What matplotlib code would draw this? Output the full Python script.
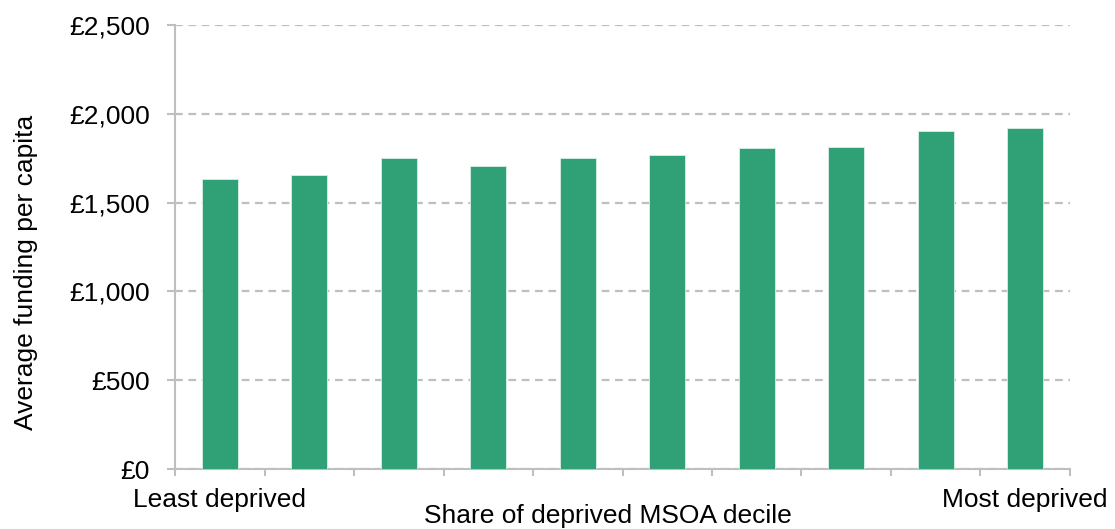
import matplotlib.pyplot as plt
import numpy as np
from matplotlib.ticker import FuncFormatter

plt.rcParams['font.family'] = ['Liberation Sans', 'DejaVu Sans']

# Valori (funding medio pro capite per decile)
deciles = list(range(1, 11))
funding = [1635, 1654, 1751, 1708, 1749, 1768, 1806, 1811, 1903, 1920]
tick_labels = ['Least deprived', '', '', '', '', '', '', '', '', 'Most deprived']

bar_color = '#30A077'
axis_grey = '#BFBFBF'

fig = plt.figure(figsize=(11.15, 5.29), dpi=100)
ax = fig.add_axes([0.157, 0.1134, 0.8026, 0.8393])

x = np.arange(len(deciles))
ax.bar(x, funding, width=0.4, color=bar_color, edgecolor='#D9F0E6', linewidth=0.6, zorder=3)

ax.set_xlim(-0.5, len(deciles) - 0.5)
ax.set_ylim(0, 2500)
ax.set_yticks(np.arange(0, 2501, 500))
ax.yaxis.set_major_formatter(FuncFormatter(lambda v, p: f'£{int(v):,}'))

# Griglia tratteggiata
ax.grid(axis='y', color='#BFBFBF', linestyle=(0, (3.5, 2.5)), linewidth=1.6, zorder=0)

for side in ['top', 'right']:
    ax.spines[side].set_visible(False)
for side in ['left', 'bottom']:
    ax.spines[side].set_color(axis_grey)
    ax.spines[side].set_linewidth(1.5)

# Tick: etichette solo al primo e ultimo decile, segni tra le categorie
ax.set_xticks(x)
ax.set_xticklabels(tick_labels)
ax.set_xticks(np.arange(-0.5, len(deciles), 1), minor=True)
ax.tick_params(axis='x', which='major', length=0, pad=14, labelsize=19)
ax.tick_params(axis='x', which='minor', length=5, width=1.5, color=axis_grey)
ax.tick_params(axis='y', length=6, width=1.5, color=axis_grey, pad=12, labelsize=19)

ax.set_ylabel('Average funding per capita', fontsize=19)
ax.yaxis.set_label_coords(-0.153, 0.444)
ax.set_xlabel('Share of deprived MSOA decile', fontsize=19)
ax.xaxis.set_label_coords(0.484, -0.078)

plt.savefig('out.png', dpi=100)
plt.close(fig)
